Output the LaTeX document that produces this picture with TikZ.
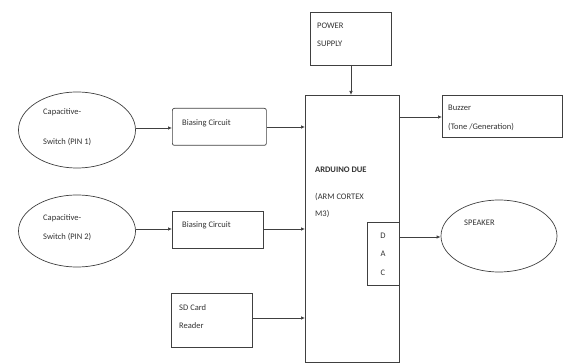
\documentclass[tikz,border=0pt]{standalone}
\usepackage{fontspec}
\setmainfont{Carlito}
\usetikzlibrary{arrows.meta,shapes.geometric}
\begin{document}
\begin{tikzpicture}[x=1pt,y=-1pt,
  every node/.style={font=\fontsize{8.5}{10}\selectfont, text=black!80},
  ln/.style={draw=black!75, line width=0.7pt},
  arr/.style={ln, -{Latex[length=4pt,width=3.5pt]}},
  txt/.style={anchor=west, inner sep=0pt}]
\useasboundingbox (0,0) rectangle (565,363);
% shapes
\draw[ln] (305,95) rectangle (399,362);
\coordinate (mainL1) at (305,127);
\coordinate (mainL2) at (305,229);
\coordinate (mainL3) at (305,318);
\coordinate (mainT) at (351,95);
\coordinate (mainR) at (399,117);
\draw[ln] (367,222) rectangle (399,285);
\coordinate (dacR) at (399,237);
\node[ln, rectangle, minimum width=81, minimum height=53, anchor=north west] (ps) at (310,12) {};
\coordinate (psB) at (351,65);
\node[ln, rectangle, minimum width=120, minimum height=42, anchor=north west] (buz) at (442,95) {};
\coordinate (buzL) at (442,117);
\node[ln, ellipse, minimum width=116, minimum height=72] (spk) at (499,236) {};
\node[ln, ellipse, minimum width=117, minimum height=76] (e1) at (77,130) {};
\node[ln, ellipse, minimum width=117, minimum height=72] (e2) at (77,231) {};
\node[ln, rectangle, rounded corners=2pt, minimum width=94, minimum height=37, anchor=north west] (b1) at (172,108) {};
\node[ln, rectangle, minimum width=91, minimum height=37, anchor=north west] (b2) at (172,211) {};
\node[ln, rectangle, minimum width=81, minimum height=54, anchor=north west] (sd) at (171,293) {};
% texts
\node[txt] (t1) at (43,112) {Capacitive-};
\node[txt] (t2) at (43,142) {Switch (PIN 1)};
\node[txt] (t3) at (43,218) {Capacitive-};
\node[txt] (t4) at (43,237) {Switch (PIN 2)};
\node[txt] (t5) at (182,123) {Biasing Circuit};
\node[txt] (t6) at (182,225) {Biasing Circuit};
\node[txt] (t7) at (179,308) {SD Card};
\node[txt] (t8) at (179,326) {Reader};
\node[txt] (t9) at (317,26) {POWER};
\node[txt] (t10) at (317,44) {SUPPLY};
\node[txt] (t11) at (448,108) {Buzzer};
\node[txt] (t12) at (448,127) {(Tone /Generation)};
\node[txt] (t13) at (464,223) {SPEAKER};
\node[txt, font=\fontsize{8.5}{10}\selectfont\bfseries] (t14) at (315,170) {ARDUINO DUE};
\node[txt] (t15) at (315,197) {(ARM CORTEX};
\node[txt] (t16) at (315,214) {M3)};
\node (d) at (383,236) {D};
\node (a) at (383,254) {A};
\node (c) at (383,273) {C};
% connectors
\draw[arr] (e1.east |- 0,128) -- (b1.west |- 0,128);
\draw[arr] (b1.east |- 0,127) -- (mainL1);
\draw[arr] (e2.east |- 0,229) -- (b2.west |- 0,229);
\draw[arr] (b2.east |- 0,229) -- (mainL2);
\draw[arr] (sd.east |- 0,318) -- (mainL3);
\draw[arr] (psB) -- (mainT);
\draw[arr] (mainR) -- (buzL);
\draw[arr] (dacR) -- (spk.west |- 0,237);
\end{tikzpicture}
\end{document}
